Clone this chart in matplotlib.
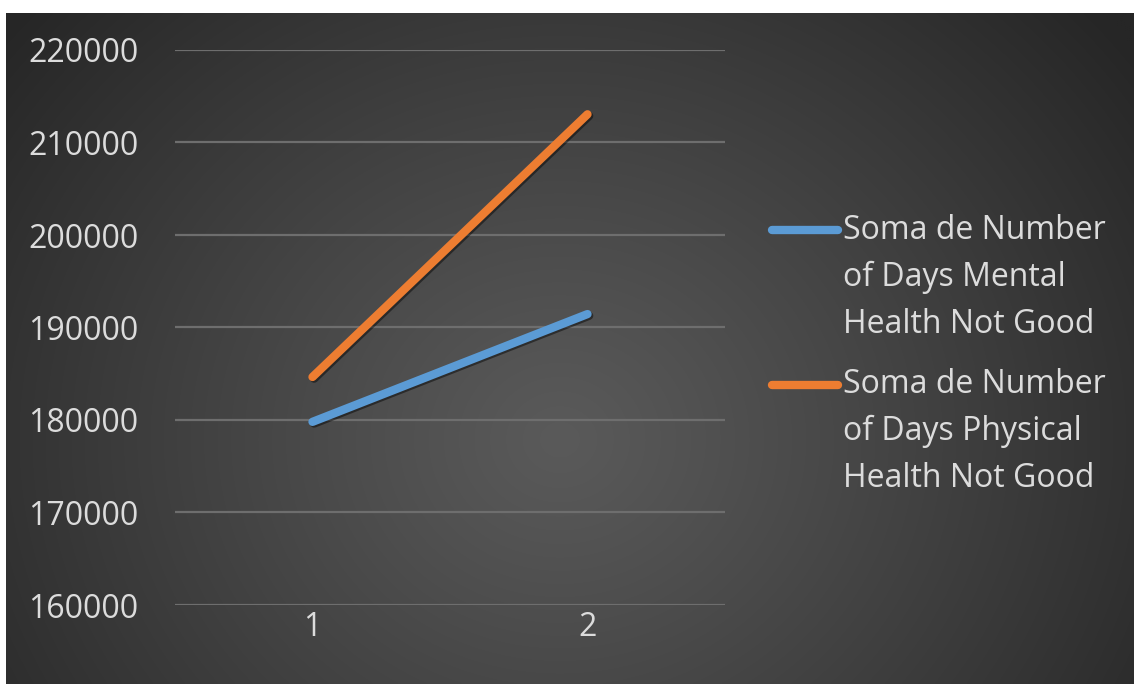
import numpy as np
import matplotlib
matplotlib.use("Agg")
import matplotlib.pyplot as plt
import matplotlib.patheffects as pe
from matplotlib.lines import Line2D

# Data
categories = [1, 2]
mental_days = [179800, 191450]
physical_days = [184650, 213050]
series_labels = [
    ["Soma de Number", "of Days Mental", "Health Not Good"],
    ["Soma de Number", "of Days Physical", "Health Not Good"],
]
y_ticks = [160000, 170000, 180000, 190000, 200000, 210000, 220000]

W, H, DPI = 1134, 684, 100
TEXT = "#dcdcdc"
BLUE = "#5b9bd5"
ORANGE = "#ed7d31"
FONT = "Open Sans"
FS = 23

fig = plt.figure(figsize=(W / DPI, H / DPI), dpi=DPI)
fig.patch.set_facecolor("white")

# Radial dark gradient for the chart area
bg = fig.add_axes([6 / W, 0, 1 - 6 / W, 1 - 13 / H])
bg.set_axis_off()
nx, ny = 560, 335
xx, yy = np.meshgrid(np.linspace(6, W, nx), np.linspace(13, H, ny))
r = np.hypot((xx - 560) / 1.0, (yy - 440) / 0.9)
t = np.clip(r / 720.0, 0, 1) ** 1.1
inner, outer = 0x5a, 0x26
g = (inner + (outer - inner) * t) / 255.0
img = np.dstack([g, g, g])
bg.imshow(img, aspect="auto", extent=[0, 1, 0, 1], origin="upper", interpolation="bilinear")
bg.set_xlim(0, 1)
bg.set_ylim(0, 1)

# Plot area
ax = fig.add_axes([175 / W, 1 - 605 / H, 550 / W, 555 / H])
ax.patch.set_alpha(0)
for s in ax.spines.values():
    s.set_visible(False)
ax.set_xlim(0.5, 2.5)
ax.set_ylim(160000, 220000)
ax.set_yticks(y_ticks)
ax.set_xticks(categories)
ax.set_xticklabels([str(c) for c in categories])
ax.yaxis.grid(True, color="#6e6e6e", linewidth=1.6)
ax.set_axisbelow(True)
ax.tick_params(axis="both", length=0, colors=TEXT, labelsize=FS)
ax.tick_params(axis="y", pad=26.5)
ax.tick_params(axis="x", pad=4)
for lab in ax.get_xticklabels() + ax.get_yticklabels():
    lab.set_fontfamily(FONT)

shadow = [pe.SimpleLineShadow(offset=(1.2, -1.2), shadow_color="black", alpha=0.45), pe.Normal()]
ax.plot(categories, mental_days, color=BLUE, linewidth=6, solid_capstyle="round",
        path_effects=shadow, zorder=3)
ax.plot(categories, physical_days, color=ORANGE, linewidth=6, solid_capstyle="round",
        path_effects=shadow, zorder=3)

# Legend, drawn with the first text line next to each key
handle_y = [230, 385]
first_baseline = [239, 393]
line_step = 47
for color, lines, hy, by in zip([BLUE, ORANGE], series_labels, handle_y, first_baseline):
    fig.add_artist(Line2D([772 / W, 838 / W], [1 - hy / H, 1 - hy / H], color=color,
                          linewidth=6, solid_capstyle="round"))
    for i, txt in enumerate(lines):
        fig.text(843 / W, 1 - (by + i * line_step) / H, txt, color=TEXT, fontsize=FS,
                 fontfamily=FONT, ha="left", va="baseline")

fig.savefig("out.png", dpi=DPI, facecolor=fig.get_facecolor())
